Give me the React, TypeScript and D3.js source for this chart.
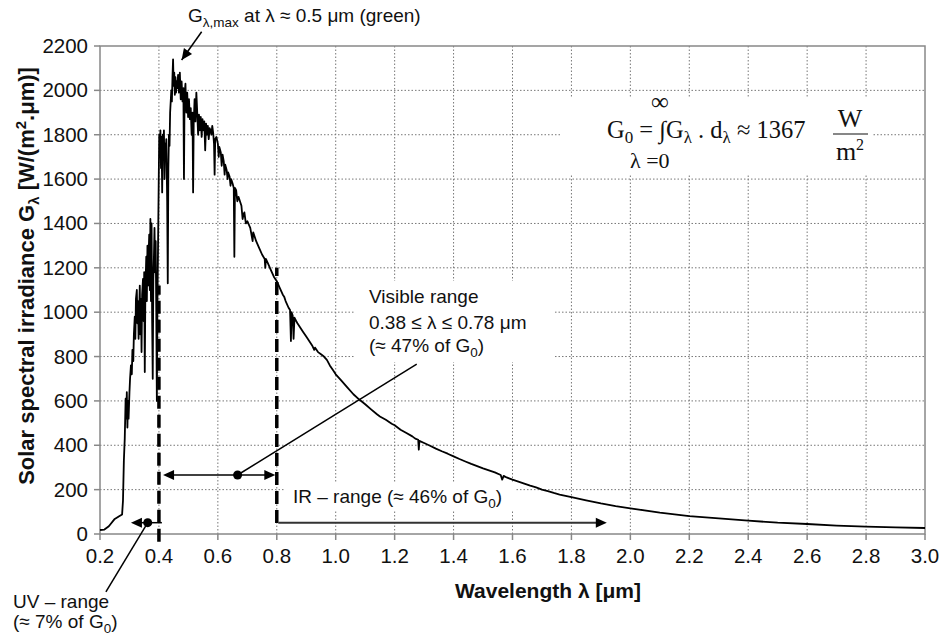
import React from 'react';
import * as d3 from 'd3';

// Wavelength [µm] and solar spectral irradiance [W/(m².µm)]
const WAVELENGTH = [
  0.200, 0.215, 0.230, 0.250, 0.265, 0.275, 0.278, 0.281, 0.284, 0.287, 0.289, 0.291, 0.293, 0.295, 0.297,
  0.300, 0.302, 0.305, 0.308, 0.310, 0.313, 0.315, 0.318, 0.320, 0.322, 0.325, 0.327, 0.329, 0.331, 0.333,
  0.335, 0.337, 0.339, 0.341, 0.343, 0.346, 0.348, 0.350, 0.352, 0.354, 0.357, 0.359, 0.361, 0.363, 0.365,
  0.367, 0.369, 0.371, 0.373, 0.375, 0.377, 0.379, 0.381, 0.383, 0.385, 0.387, 0.389, 0.391, 0.393, 0.395,
  0.397, 0.399, 0.401, 0.403, 0.405, 0.407, 0.409, 0.411, 0.413, 0.415, 0.417, 0.419, 0.421, 0.423, 0.425,
  0.428, 0.430, 0.432, 0.434, 0.436, 0.438, 0.440, 0.442, 0.444, 0.446, 0.448, 0.450, 0.452, 0.454, 0.456,
  0.458, 0.460, 0.462, 0.465, 0.468, 0.471, 0.474, 0.477, 0.480, 0.483, 0.485, 0.487, 0.490, 0.493, 0.496,
  0.499, 0.502, 0.505, 0.508, 0.511, 0.514, 0.516, 0.518, 0.521, 0.524, 0.527, 0.530, 0.533, 0.536, 0.539,
  0.542, 0.545, 0.548, 0.551, 0.554, 0.557, 0.560, 0.563, 0.566, 0.569, 0.572, 0.575, 0.578, 0.581, 0.584,
  0.587, 0.589, 0.591, 0.595, 0.600, 0.603, 0.605, 0.610, 0.613, 0.616, 0.620, 0.623, 0.625, 0.630, 0.633,
  0.635, 0.640, 0.643, 0.645, 0.650, 0.654, 0.656, 0.658, 0.662, 0.666, 0.670, 0.680, 0.684, 0.687, 0.690,
  0.695, 0.700, 0.710, 0.718, 0.720, 0.725, 0.730, 0.740, 0.750, 0.759, 0.761, 0.763, 0.770, 0.780, 0.790,
  0.800, 0.810, 0.820, 0.825, 0.830, 0.840, 0.845, 0.848, 0.850, 0.854, 0.857, 0.860, 0.866, 0.870, 0.880,
  0.890, 0.900, 0.910, 0.920, 0.927, 0.930, 0.940, 0.950, 0.960, 0.970, 0.980, 0.990, 1.000, 1.020, 1.040,
  1.060, 1.080, 1.100, 1.120, 1.140, 1.150, 1.170, 1.190, 1.200, 1.220, 1.240, 1.260, 1.270, 1.280, 1.282,
  1.284, 1.300, 1.320, 1.340, 1.360, 1.380, 1.400, 1.420, 1.440, 1.460, 1.480, 1.500, 1.520, 1.540, 1.560,
  1.565, 1.570, 1.580, 1.600, 1.620, 1.640, 1.660, 1.680, 1.700, 1.720, 1.740, 1.760, 1.780, 1.800, 1.850,
  1.900, 1.950, 2.000, 2.100, 2.200, 2.300, 2.400, 2.500, 2.600, 2.700, 2.800, 2.900, 3.000,
];
const IRRADIANCE = [
  18, 20, 35, 68, 80, 88, 150, 330, 430, 610, 520, 640, 480, 600, 520,
  640, 700, 760, 720, 830, 780, 900, 980, 880, 1060, 1100, 950, 1050, 880, 1000,
  1120, 900, 1060, 820, 1080, 1150, 960, 1180, 730, 1100, 1250, 1050, 1300, 1120, 1260,
  1350, 1100, 1420, 1050, 1400, 960, 700, 1150, 1250, 1380, 1180, 1320, 1000, 600, 1050,
  1300, 1550, 1800, 1700, 1820, 1650, 1790, 1540, 1800, 1720, 1820, 1600, 1760, 1700, 1780,
  1500, 1130, 1650, 1800, 1750, 1900, 1950, 2000, 1950, 2060, 2140, 2020, 2080, 1980, 2060,
  1990, 2040, 2010, 2070, 1990, 2080, 1960, 2040, 1950, 2010, 1600, 1980, 2030, 1900, 1990,
  1880, 1960, 1870, 1920, 1800, 1900, 1540, 1850, 1960, 1860, 1990, 1900, 1800, 1890, 1820,
  1880, 1790, 1870, 1820, 1860, 1730, 1850, 1800, 1840, 1780, 1830, 1820, 1800, 1840, 1810,
  1760, 1620, 1780, 1790, 1760, 1700, 1745, 1720, 1660, 1710, 1680, 1620, 1665, 1640, 1600,
  1630, 1610, 1570, 1600, 1580, 1560, 1250, 1560, 1550, 1500, 1520, 1480, 1420, 1440, 1450,
  1400, 1410, 1380, 1320, 1360, 1340, 1320, 1290, 1260, 1240, 1200, 1240, 1220, 1190, 1160,
  1140, 1110, 1080, 1070, 1050, 1020, 1010, 870, 1000, 985, 880, 975, 960, 950, 930,
  910, 890, 870, 850, 830, 840, 820, 810, 800, 785, 760, 740, 720, 690, 660,
  630, 606, 585, 562, 540, 530, 515, 497, 490, 470, 455, 440, 430, 425, 380,
  420, 410, 398, 385, 373, 362, 350, 338, 327, 316, 306, 296, 287, 278, 266,
  245, 262, 255, 245, 236, 227, 218, 210, 200, 193, 185, 178, 172, 166, 152,
  138, 126, 116, 96, 81, 70, 60, 51, 45, 38, 33, 30, 27,
];

const X_TICKS = [0.2, 0.4, 0.6, 0.8, 1.0, 1.2, 1.4, 1.6, 1.8, 2.0, 2.2, 2.4, 2.6, 2.8, 3.0];
const Y_TICKS = [0, 200, 400, 600, 800, 1000, 1200, 1400, 1600, 1800, 2000, 2200];

// range boundaries & annotation anchors (data units)
const DASHED_BOUNDS = [
  { x: 0.4, y0: -35, y1: 1120 },
  { x: 0.8, y0: 50, y1: 1200 },
];
const UV_ARROW = { x0: 0.41, x1: 0.305, y: 51, dot: 0.362, leader: [0.22, -261] };
const VIS_ARROW = { x0: 0.414, x1: 0.795, y: 266, dot: 0.667, leader: [1.275, 766] };
const IR_ARROW = { x0: 0.805, x1: 1.92, y: 51 };
const MAX_ARROW = { from: [0.545, 2264], to: [0.477, 2137] };

const W = 945;
const H = 637;
const sans = "'Liberation Sans', Arial, Helvetica, sans-serif";
const serif = "'Liberation Serif', 'Times New Roman', serif";

function head(x0: number, y0: number, x1: number, y1: number, len = 11, hw = 5) {
  const a = Math.atan2(y1 - y0, x1 - x0);
  const bx = x1 - len * Math.cos(a);
  const by = y1 - len * Math.sin(a);
  const px = -Math.sin(a) * hw;
  const py = Math.cos(a) * hw;
  return `${x1},${y1} ${bx + px},${by + py} ${bx - px},${by - py}`;
}

export default function App() {
  const x = d3.scaleLinear().domain([0.2, 3.0]).range([100, 925]);
  const y = d3.scaleLinear().domain([0, 2200]).range([534, 46]);
  const pts: [number, number][] = WAVELENGTH.map((w, i) => [w, IRRADIANCE[i]]);
  const line = d3.line<[number, number]>().x((d) => x(d[0])).y((d) => y(d[1]));

  const fmt = d3.format('.1f');
  const gridColor = '#777';
  const annSize = 19;
  const subSize = 13.5;

  return (
    <svg width={W} height={H} style={{ position: 'absolute', left: 0, top: 0, background: '#fff' }}>
      <rect x={0} y={0} width={W} height={H} fill="#fff" />
      {/* grid */}
      {X_TICKS.slice(1, -1).map((t) => (
        <line key={'gx' + t} x1={x(t)} x2={x(t)} y1={y(0)} y2={y(2200)} stroke={gridColor} strokeWidth={1} strokeDasharray="1.5,2" />
      ))}
      {Y_TICKS.slice(1, -1).map((t) => (
        <line key={'gy' + t} x1={x(0.2)} x2={x(3.0)} y1={y(t)} y2={y(t)} stroke={gridColor} strokeWidth={1} strokeDasharray="1.5,2" />
      ))}
      {/* white boxes behind text */}
      <rect x={560} y={97} width={313} height={78} fill="#fff" />
      <rect x={355} y={281} width={198} height={81} fill="#fff" />
      <rect x={284} y={483} width={231} height={27} fill="#fff" />

      {/* frame */}
      <rect x={x(0.2)} y={y(2200)} width={x(3.0) - x(0.2)} height={y(0) - y(2200)} fill="none" stroke="#888" strokeWidth={1.5} />
      {/* ticks */}
      {X_TICKS.map((t) => (
        <g key={'xt' + t}>
          <line x1={x(t)} x2={x(t)} y1={y(0)} y2={y(0) + 6} stroke="#888" strokeWidth={1.5} />
          <text x={x(t)} y={563} textAnchor="middle" fontFamily={sans} fontSize={20.5} fill="#111">{fmt(t)}</text>
        </g>
      ))}
      {Y_TICKS.map((t) => (
        <g key={'yt' + t}>
          <line x1={x(0.2) - 6} x2={x(0.2)} y1={y(t)} y2={y(t)} stroke="#888" strokeWidth={1.5} />
          <text x={88} y={y(t) + 7} textAnchor="end" fontFamily={sans} fontSize={20.5} fill="#111">{t}</text>
        </g>
      ))}

      {/* curve */}
      <path d={line(pts) || ''} fill="none" stroke="#000" strokeWidth={1.8} strokeLinejoin="round" />

      {/* dashed range boundaries */}
      {DASHED_BOUNDS.map((b) => (
        <line key={'db' + b.x} x1={x(b.x)} x2={x(b.x)} y1={y(b.y0)} y2={y(b.y1)} stroke="#000" strokeWidth={3.5} strokeDasharray="13,6" />
      ))}

      {/* UV arrow */}
      <line x1={x(UV_ARROW.x0)} x2={x(UV_ARROW.x1) + 8} y1={y(UV_ARROW.y)} y2={y(UV_ARROW.y)} stroke="#000" strokeWidth={1.5} />
      <polygon points={head(x(UV_ARROW.x0), y(UV_ARROW.y), x(UV_ARROW.x1), y(UV_ARROW.y))} fill="#000" />
      <circle cx={x(UV_ARROW.dot)} cy={y(UV_ARROW.y)} r={4.5} fill="#000" />
      <line x1={x(UV_ARROW.dot)} y1={y(UV_ARROW.y)} x2={x(UV_ARROW.leader[0])} y2={y(UV_ARROW.leader[1])} stroke="#000" strokeWidth={1.5} />

      {/* Visible arrow */}
      <line x1={x(VIS_ARROW.x0) + 6} x2={x(VIS_ARROW.x1) - 6} y1={y(VIS_ARROW.y)} y2={y(VIS_ARROW.y)} stroke="#000" strokeWidth={1.5} />
      <polygon points={head(x(VIS_ARROW.x1), y(VIS_ARROW.y), x(VIS_ARROW.x0), y(VIS_ARROW.y))} fill="#000" />
      <polygon points={head(x(VIS_ARROW.x0), y(VIS_ARROW.y), x(VIS_ARROW.x1), y(VIS_ARROW.y))} fill="#000" />
      <circle cx={x(VIS_ARROW.dot)} cy={y(VIS_ARROW.y)} r={4.5} fill="#000" />
      <line x1={x(VIS_ARROW.dot)} y1={y(VIS_ARROW.y)} x2={x(VIS_ARROW.leader[0])} y2={y(VIS_ARROW.leader[1])} stroke="#000" strokeWidth={1.5} />

      {/* IR arrow */}
      <line x1={x(IR_ARROW.x0)} x2={x(IR_ARROW.x1) - 8} y1={y(IR_ARROW.y)} y2={y(IR_ARROW.y)} stroke="#333" strokeWidth={2} />
      <polygon points={head(x(IR_ARROW.x0), y(IR_ARROW.y), x(IR_ARROW.x1), y(IR_ARROW.y))} fill="#000" />

      {/* G max arrow */}
      <line x1={x(MAX_ARROW.from[0])} y1={y(MAX_ARROW.from[1])} x2={x(MAX_ARROW.to[0])} y2={y(MAX_ARROW.to[1])} stroke="#000" strokeWidth={1.5} />
      <polygon points={head(x(MAX_ARROW.from[0]), y(MAX_ARROW.from[1]), x(MAX_ARROW.to[0]), y(MAX_ARROW.to[1]))} fill="#000" />

      {/* annotations */}
      <text x={188} y={22} fontFamily={sans} fontSize={annSize} fill="#111">
        G<tspan fontSize={subSize} dy={5}>λ,max</tspan><tspan dy={-5}> at λ ≈ 0.5 μm (green)</tspan>
      </text>

      <g fontFamily={sans} fontSize={annSize} fill="#111">
        <text x={369} y={303}>Visible range</text>
        <text x={369} y={329}>0.38 ≤ λ ≤ 0.78 μm</text>
        <text x={369} y={352}>(≈ 47% of G<tspan fontSize={subSize} dy={5}>0</tspan><tspan dy={-5}>)</tspan></text>
        <text x={293} y={503}>IR – range (≈ 46% of G<tspan fontSize={subSize} dy={5}>0</tspan><tspan dy={-5}>)</tspan></text>
        <text x={13} y={608}>UV – range</text>
        <text x={13} y={628}>(≈ 7% of G<tspan fontSize={subSize} dy={5}>0</tspan><tspan dy={-5}>)</tspan></text>
      </g>

      {/* formula */}
      <g fontFamily={serif} fontSize={24.5} fill="#111">
        <text x={607} y={138}>
          G<tspan fontSize={17} dy={5}>0</tspan><tspan dy={-5}> = ∫G</tspan><tspan fontSize={17} dy={5}>λ</tspan><tspan dy={-5}> . d</tspan><tspan fontSize={17} dy={5}>λ</tspan><tspan dy={-5}> ≈ 1367</tspan>
        </text>
        <text x={660} y={110} textAnchor="middle" fontSize={25}>∞</text>
        <text x={630} y={168} fontSize={22}>λ =0</text>
        <text x={850} y={127} textAnchor="middle" fontSize={26}>W</text>
        <line x1={833} x2={868} y1={134} y2={134} stroke="#111" strokeWidth={1.2} />
        <text x={850} y={160} textAnchor="middle" fontSize={26}>m<tspan fontSize={16} dy={-10}>2</tspan></text>
      </g>

      {/* axis titles */}
      <text x={548} y={598} textAnchor="middle" fontFamily={sans} fontWeight="bold" fontSize={21} fill="#111">Wavelength λ [μm]</text>
      <text transform="translate(34,276) rotate(-90)" textAnchor="middle" fontFamily={sans} fontWeight="bold" fontSize={22} fill="#111">
        Solar spectral irradiance G<tspan fontSize={15} dy={5}>λ</tspan><tspan dy={-5}> [W/(m</tspan><tspan fontSize={15} dy={-8}>2</tspan><tspan dy={8}>.μm)]</tspan>
      </text>
    </svg>
  );
}
